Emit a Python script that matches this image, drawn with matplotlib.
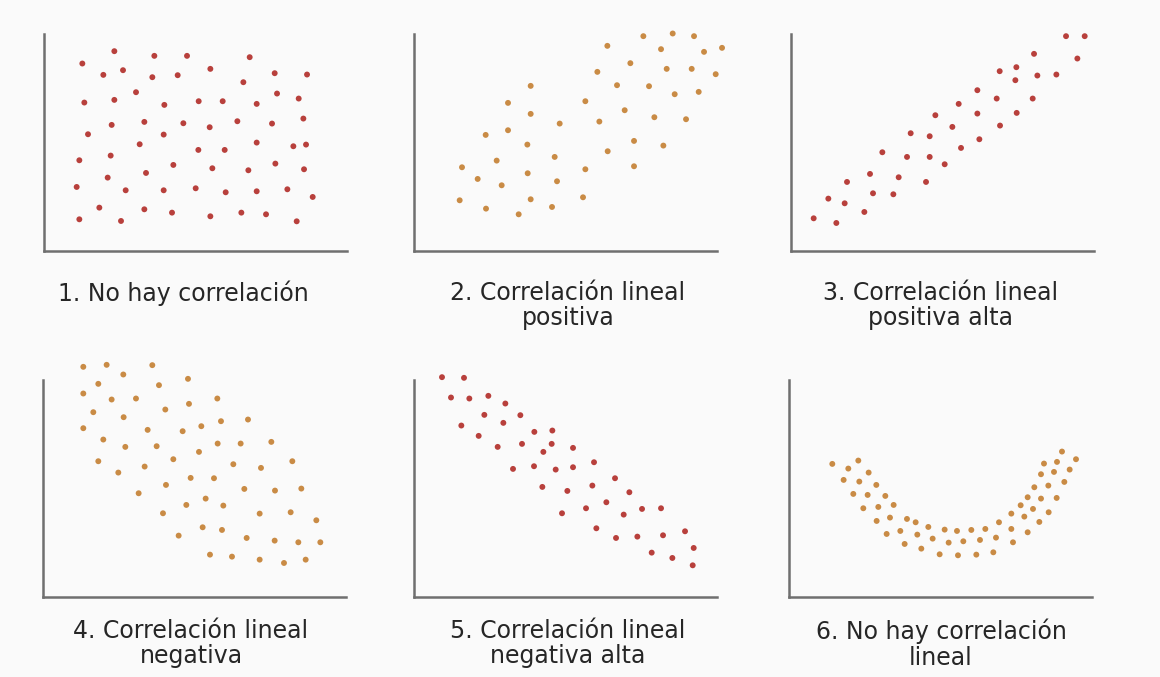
import matplotlib
matplotlib.use('Agg')
import matplotlib.pyplot as plt

# ─── data (axis units 0..91 x 0..65) ─────────────────────────────────────────
p1_x = [11.5, 21.1, 33.1, 42.9, 61.7, 17.8, 23.7, 32.5, 40.1, 49.9, 59.8, 69.2, 78.9,
        12.1, 21.1, 27.6, 36.1, 46.4, 53.6, 63.8, 69.9, 76.4, 13.2, 20.3, 30.1, 35.9,
        41.8, 49.7, 58.0, 68.4, 77.8, 10.6, 20.0, 28.7, 46.3, 54.2, 63.8, 74.8, 78.6,
        19.1, 30.6, 38.8, 50.5, 61.3, 69.4, 78.0, 9.8, 24.5, 35.9, 45.5, 54.5, 63.8,
        73.0, 80.6, 16.6, 30.1, 38.4, 59.2, 66.6, 10.6, 23.1, 49.9, 75.8]
p1_y = [56.2, 59.9, 58.5, 58.5, 58.1, 52.8, 54.2, 52.1, 52.7, 54.6, 50.6, 53.3, 52.9,
        44.5, 45.3, 47.6, 43.8, 44.9, 44.9, 44.1, 47.2, 45.7, 35.0, 37.8, 38.7, 34.9,
        38.3, 37.1, 38.9, 38.2, 39.7, 27.2, 28.6, 32.0, 30.3, 30.3, 32.5, 31.4, 31.9,
        22.0, 23.4, 25.8, 24.8, 24.2, 26.2, 24.5, 19.2, 18.2, 18.2, 18.8, 17.6, 17.9,
        18.5, 16.2, 13.0, 12.5, 11.5, 11.5, 11.0, 9.5, 9.0, 10.4, 8.9]

p2_x = [58.0, 68.8, 77.6, 84.0, 74.1, 87.0, 92.4, 55.0, 64.9, 75.8, 83.3, 90.5, 35.0,
        60.9, 70.5, 78.2, 85.4, 28.2, 51.4, 63.2, 72.1, 81.6, 35.0, 43.7, 55.6, 21.5,
        28.2, 34.0, 66.0, 74.8, 24.8, 42.2, 58.1, 14.4, 19.1, 34.1, 51.4, 66.0, 26.3,
        42.9, 13.7, 35.0, 50.7, 21.6, 31.4, 41.4]
p2_y = [61.5, 64.4, 65.2, 64.4, 60.5, 59.7, 60.9, 53.7, 56.3, 54.6, 54.6, 53.0, 49.5,
        49.7, 49.4, 47.0, 47.7, 44.4, 44.9, 42.2, 40.1, 39.5, 41.1, 38.2, 38.8, 34.8,
        36.2, 31.9, 33.0, 31.6, 27.1, 28.2, 29.9, 25.1, 21.6, 23.3, 24.5, 25.4, 19.7,
        20.9, 15.2, 15.5, 16.1, 12.7, 11.0, 13.2]

p3_x = [82.5, 88.1, 85.9, 72.9, 67.6, 62.6, 67.3, 73.9, 79.6, 55.9, 61.7, 72.5, 50.3,
        55.9, 67.7, 43.3, 48.4, 62.7, 35.9, 41.6, 56.5, 51.0, 27.4, 34.8, 41.6, 46.1,
        23.7, 32.3, 40.5, 16.8, 24.6, 30.7, 11.2, 16.1, 22.0, 6.8, 13.6]
p3_y = [64.4, 64.4, 57.7, 59.1, 55.1, 53.9, 51.2, 52.6, 52.9, 48.2, 45.7, 45.7, 44.1,
        41.2, 41.4, 40.7, 37.2, 37.6, 35.3, 34.4, 33.5, 30.9, 29.6, 28.2, 28.2, 26.0,
        23.1, 22.1, 20.7, 20.7, 17.3, 17.0, 15.7, 14.3, 11.7, 9.8, 8.4]

p4_x = [12.0, 19.0, 24.0, 32.7, 43.4, 16.5, 34.7, 12.0, 20.5, 27.8, 43.7, 52.2, 15.0,
        24.1, 36.6, 12.0, 31.3, 41.8, 47.4, 53.3, 61.4, 18.0, 24.6, 34.0, 46.7, 52.3,
        59.2, 68.4, 16.5, 22.5, 30.4, 39.0, 57.0, 65.3, 74.7, 28.6, 36.8, 44.2, 51.2,
        60.3, 69.5, 77.4, 35.9, 42.9, 48.7, 54.0, 64.9, 74.2, 81.9, 40.6, 47.8, 53.6,
        61.0, 69.4, 76.5, 83.1, 50.0, 56.6, 64.9, 72.2, 78.7]
p4_y = [69.0, 69.6, 66.7, 69.5, 65.4, 63.9, 63.5, 61.0, 59.2, 59.5, 57.9, 59.5, 55.4,
        53.9, 56.2, 50.6, 50.1, 49.7, 51.2, 52.7, 53.2, 47.2, 45.0, 45.2, 43.5, 46.0,
        46.0, 46.5, 40.7, 37.3, 39.1, 41.3, 39.8, 38.7, 40.7, 31.1, 33.6, 35.7, 35.6,
        32.4, 31.9, 32.5, 25.1, 27.6, 29.5, 27.4, 25.0, 25.4, 23.0, 18.4, 20.9, 20.1,
        17.7, 16.9, 16.4, 16.4, 12.7, 12.1, 11.2, 10.2, 11.2]

p5_x = [8.4, 15.0, 11.1, 16.6, 22.3, 27.4, 21.1, 31.9, 26.8, 14.2, 36.1, 41.5, 19.4,
        25.1, 32.4, 41.3, 38.8, 47.7, 29.7, 36.0, 42.5, 47.7, 54.0, 60.3, 38.5, 46.0,
        53.5, 64.6, 57.7, 51.6, 44.4, 62.9, 68.4, 74.1, 54.7, 60.6, 67.0, 74.7, 81.3,
        71.3, 77.5, 83.9, 83.6]
p5_y = [65.9, 65.7, 59.8, 59.5, 60.3, 58.0, 54.6, 54.5, 52.2, 51.4, 49.5, 49.9, 48.3,
        45.0, 45.9, 45.9, 43.5, 44.7, 38.4, 39.2, 38.2, 38.9, 40.4, 35.6, 33.0, 31.8,
        33.4, 31.4, 28.4, 26.6, 25.1, 24.7, 26.4, 26.6, 20.6, 17.7, 18.1, 18.5, 19.7,
        13.3, 11.7, 14.7, 9.5]

p6_x = [12.9, 17.7, 20.7, 16.3, 21.0, 23.8, 19.2, 23.5, 26.1, 22.2, 26.7, 28.8, 26.2,
        30.2, 31.3, 29.2, 33.3, 35.3, 37.9, 34.6, 38.4, 41.7, 39.6, 43.0, 46.6, 45.1,
        47.8, 50.3, 50.6, 52.2, 54.6, 56.1, 57.2, 58.8, 61.2, 62.0, 62.9, 67.1, 66.6,
        66.6, 71.5, 70.5, 69.4, 75.0, 73.1, 71.5, 77.8, 75.5, 73.5, 80.2, 77.7, 75.5,
        82.5, 79.4, 76.4, 84.1, 80.3, 86.0, 81.8]
p6_y = [39.9, 38.5, 40.9, 35.1, 34.6, 37.3, 30.9, 30.6, 33.6, 26.6, 27.0, 30.3, 22.8,
        23.8, 27.6, 18.9, 19.8, 23.4, 22.4, 15.9, 18.7, 21.0, 14.5, 17.5, 20.2, 12.8,
        16.3, 19.8, 12.5, 16.7, 20.1, 12.7, 17.1, 20.4, 13.4, 17.8, 22.4, 16.4, 20.4,
        25.0, 19.4, 24.1, 27.5, 22.5, 26.4, 29.9, 25.4, 29.5, 32.9, 29.7, 33.4, 36.8,
        34.5, 37.5, 40.0, 38.2, 40.5, 41.3, 43.6]

titles = ['1. No hay correlación',
          '2. Correlación lineal\npositiva',
          '3. Correlación lineal\npositiva alta',
          '4. Correlación lineal\nnegativa',
          '5. Correlación lineal\nnegativa alta',
          '6. No hay correlación\nlineal']

RED, ORANGE = '#b8403c', '#c98b45'
series = [(p1_x, p1_y, RED), (p2_x, p2_y, ORANGE), (p3_x, p3_y, RED),
          (p4_x, p4_y, ORANGE), (p5_x, p5_y, RED), (p6_x, p6_y, ORANGE)]

# ─── layout (pixels of a 1160x677 canvas) ─────────────────────────────────────
W, H = 1160, 677
AW, AH = 302.7, 217.5              # axis box size in px
lefts = [44, 414, 791, 43.3, 414, 789.3]
tops = [33.5, 33.5, 33.5, 379.5, 379.5, 379.5]
label_x = [183, 568, 941, 191, 568, 941]
label_top = [281, 281, 281, 619, 619, 619]

fig = plt.figure(figsize=(W / 100, H / 100), dpi=100)
fig.patch.set_facecolor('#fafafa')

for i, (xs, ys, col) in enumerate(series):
    ax = fig.add_axes([lefts[i] / W, 1 - (tops[i] + AH) / H, AW / W, AH / H])
    ax.set_facecolor('none')
    ax.scatter(xs, ys, s=18, color=col, edgecolors='none', clip_on=False, zorder=3)
    ax.set_xlim(0, 90.8)
    ax.set_ylim(0, 65.2)
    for side in ('top', 'right'):
        ax.spines[side].set_visible(False)
    for side in ('left', 'bottom'):
        ax.spines[side].set_color('#6f6f6f')
        ax.spines[side].set_linewidth(1.8)
    ax.set_xticks([])
    ax.set_yticks([])
    fig.text(label_x[i] / W, 1 - label_top[i] / H, titles[i], ha='center', va='top',
             fontsize=17, color='#262626', linespacing=1.07, family='DejaVu Sans')

fig.savefig('out.png', dpi=100, facecolor=fig.get_facecolor())
